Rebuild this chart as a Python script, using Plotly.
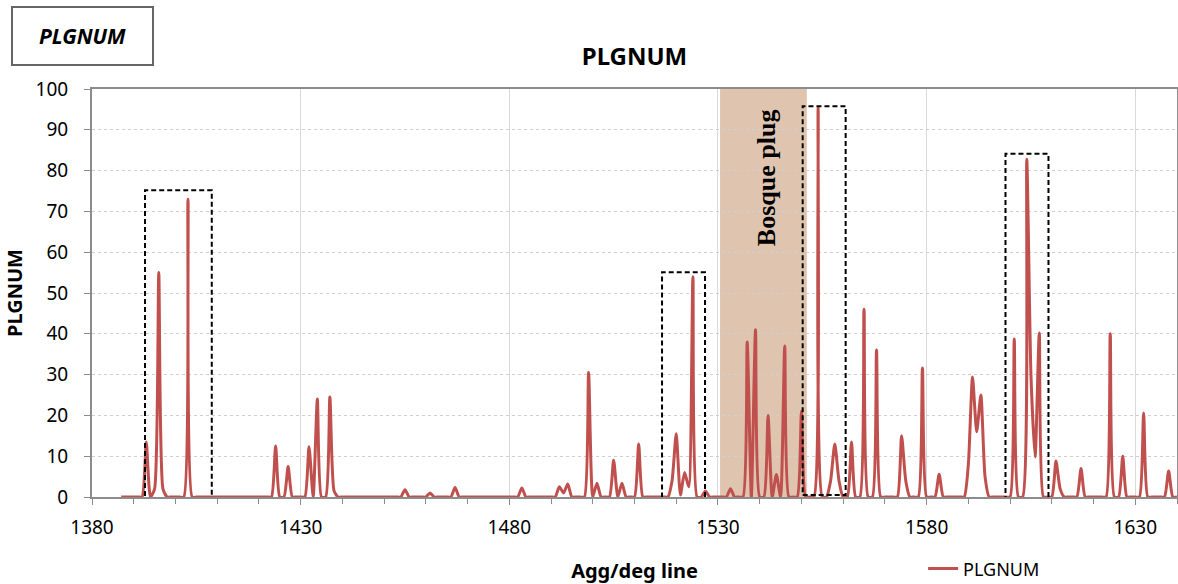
import plotly.graph_objects as go

# ---- data ----
depth_start = 1387
depth_end = 1640
# (depth, PLGNUM) non-zero samples; every other integer depth in range reads as 0
peak_depths = [1393, 1395, 1396, 1397, 1403,
               1424, 1427, 1432, 1434, 1437, 1438,
               1455, 1461, 1467, 1483, 1492, 1493, 1494,
               1499, 1501, 1505, 1507, 1511,
               1519, 1520, 1521, 1522, 1523, 1524, 1527,
               1533, 1537, 1539, 1542, 1544, 1546, 1550,
               1554, 1557, 1558, 1559, 1562, 1565, 1568,
               1574, 1575, 1579, 1583,
               1590, 1591, 1592, 1593, 1594,
               1601, 1604, 1605, 1606, 1607,
               1611, 1612, 1617, 1624, 1627, 1632, 1638]
peak_values = [13.5, 2, 55, 2, 73,
               12.5, 7.5, 12.3, 24, 24.5, 1.5,
               1.8, 1.0, 2.3, 2.2, 2.5, 1.0, 3.2,
               30.5, 3.4, 9, 3.4, 13,
               4, 15.5, 0.5, 6, 2.5, 54, 1.5,
               2, 38, 41, 20, 5.5, 37, 21,
               95.5, 4, 13, 4, 13.5, 46, 36,
               15, 4, 31.6, 5.6,
               8, 29.4, 16, 25, 5,
               38.7, 82.8, 30, 9.8, 40.2,
               8.8, 2, 7, 40, 10, 20.6, 6.4]

x_ticks = [1380, 1430, 1480, 1530, 1580, 1630]
y_ticks = list(range(0, 101, 10))

plug_zone = [1530.5, 1551.3]
boxes = [  # x0, x1, y0, y1
    [1392.7, 1408.7, -0.7, 75.2],
    [1516.6, 1526.9, -1.2, 55.1],
    [1550.3, 1560.6, 0.5, 95.8],
    [1598.9, 1609.2, -1.2, 84.1],
]

# ---- build series ----
vals = dict(zip(peak_depths, peak_values))
depth = list(range(depth_start, depth_end + 1))
plgnum = [vals.get(d, 0) for d in depth]

FONT = "Noto Sans"
RED = "#C0504D"
AXIS = "#8C8C8C"

fig = go.Figure()
fig.add_trace(go.Scatter(
    x=depth, y=plgnum, mode="lines", name="PLGNUM",
    line=dict(color=RED, width=3, shape="spline", smoothing=0.6),
))

shapes = [dict(type="rect", xref="x", yref="y", x0=plug_zone[0], x1=plug_zone[1],
               y0=0, y1=100, fillcolor="#DFC5B0", line=dict(width=0), layer="below")]
for b in boxes:
    shapes.append(dict(type="rect", xref="x", yref="y", x0=b[0], x1=b[1], y0=b[2], y1=b[3],
                       line=dict(color="black", width=2, dash="5px,3px"),
                       fillcolor="rgba(0,0,0,0)"))

annotations = [
    dict(text="<b>Bosque plug</b>", x=1541.8, y=78.2, xref="x", yref="y", textangle=-90,
         showarrow=False, font=dict(family="Liberation Serif", size=26, color="black")),
    dict(text="<b><i>PLGNUM</i></b>", x=-0.0083, y=1.1287, xref="paper", yref="paper",
         xanchor="center", yanchor="middle", showarrow=False, width=139, height=56,
         bordercolor="#666666", borderwidth=2, borderpad=0,
         font=dict(family=FONT, size=21, color="black")),
]

fig.update_layout(
    width=1178, height=584,
    margin=dict(l=92, r=1, t=89, b=87, autoexpand=False),
    paper_bgcolor="white", plot_bgcolor="white",
    font=dict(family=FONT, size=18, color="black"),
    title=dict(text="<b>PLGNUM</b>", x=0.5, xref="paper", y=1 - 57 / 584, yanchor="middle",
               font=dict(family=FONT, size=24, color="black")),
    shapes=shapes, annotations=annotations,
    showlegend=True,
    legend=dict(x=0.766, y=-0.176, xanchor="left", yanchor="middle",
                font=dict(family=FONT, size=18, color="black"), bgcolor="rgba(0,0,0,0)"),
)
fig.update_xaxes(
    range=[1380, 1640], tickvals=x_ticks, ticks="outside", ticklen=6, tickcolor=AXIS,
    showline=True, linecolor=AXIS, linewidth=2, mirror=True,
    showgrid=True, gridcolor="#D9D9D9", gridwidth=1,
    minor=dict(dtick=10, tick0=1380, ticks="outside", ticklen=5, tickcolor=AXIS, showgrid=False),
    tickfont=dict(family=FONT, size=19), ticklabelstandoff=6,
    title=dict(text="<b>Agg/deg line</b>", font=dict(family=FONT, size=20), standoff=26),
    zeroline=False, automargin=False,
)
fig.update_yaxes(
    range=[0, 100], tickvals=y_ticks, ticks="outside", ticklen=6, tickcolor=AXIS,
    showline=True, linecolor=AXIS, linewidth=2, mirror=True,
    showgrid=True, gridcolor="#D0D0D0", griddash="dot", gridwidth=1,
    tickfont=dict(family=FONT, size=19), ticklabelstandoff=12,
    title=dict(text="<b>PLGNUM</b>", font=dict(family=FONT, size=20), standoff=8),
    zeroline=False, automargin=False,
)
fig.write_html("out.html")
